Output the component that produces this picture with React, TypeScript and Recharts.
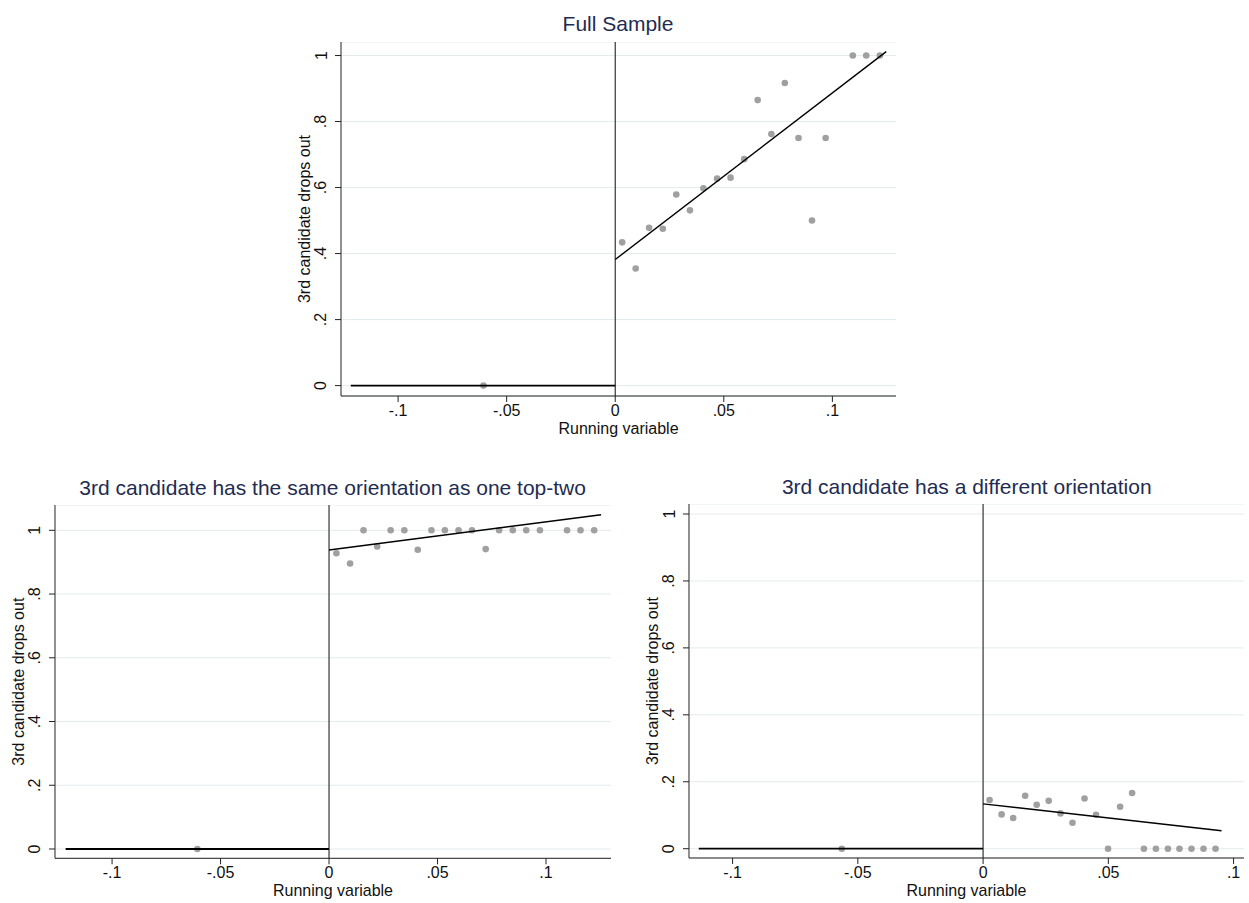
import React from "react";
import {
  ScatterChart,
  Scatter,
  XAxis,
  YAxis,
  CartesianGrid,
  ReferenceLine,
} from "recharts";

// bin centres (running variable) and bin means
const fullX = [-0.0607, 0.0032, 0.0094, 0.0156, 0.0219, 0.0281, 0.0344, 0.0406, 0.0469, 0.0531, 0.0594, 0.0656, 0.0719, 0.0781, 0.0844, 0.0906, 0.0969, 0.1094, 0.1156, 0.1219];
const fullY = [0, 0.434, 0.355, 0.478, 0.475, 0.579, 0.531, 0.598, 0.627, 0.63, 0.686, 0.865, 0.762, 0.917, 0.75, 0.5, 0.75, 1, 1, 1];
const fullFitLeft = { x: [-0.1218, 0], y: [0, 0] };
const fullFitRight = { x: [0, 0.1248], y: [0.382, 1.012] };

const sameX = [-0.0607, 0.0034, 0.0097, 0.0159, 0.0222, 0.0284, 0.0347, 0.0409, 0.0472, 0.0534, 0.0597, 0.0659, 0.0722, 0.0784, 0.0847, 0.0909, 0.0972, 0.1097, 0.1159, 0.1222];
const sameY = [0, 0.928, 0.896, 1, 0.949, 1, 1, 0.939, 1, 1, 1, 1, 0.941, 1, 1, 1, 1, 1, 1, 1];
const sameFitLeft = { x: [-0.1214, 0], y: [0, 0] };
const sameFitRight = { x: [0, 0.1254], y: [0.938, 1.049] };

const diffX = [-0.0564, 0.0026, 0.0074, 0.012, 0.0168, 0.0214, 0.0262, 0.0309, 0.0357, 0.0405, 0.0451, 0.0499, 0.0547, 0.0595, 0.0642, 0.069, 0.0738, 0.0784, 0.0832, 0.088, 0.0928];
const diffY = [0, 0.1455, 0.1025, 0.0917, 0.158, 0.131, 0.143, 0.1055, 0.0777, 0.15, 0.1016, 0, 0.1255, 0.1664, 0, 0, 0, 0, 0, 0, 0];
const diffFitLeft = { x: [-0.1135, 0], y: [0, 0] };
const diffFitRight = { x: [0, 0.0952], y: [0.134, 0.0538] };

const xTicks = [-0.1, -0.05, 0, 0.05, 0.1];
const yTicks = [0, 0.2, 0.4, 0.6, 0.8, 1];

const FONT = "'Liberation Sans', Arial, Helvetica, sans-serif";
const TITLE_COLOR = "#1f2c52";
const GRID = "#e3ebee";
const DOT = "#a0a0a0";

const fmt = (v: number) =>
  v === 0 ? "0" : (v < 0 ? "-" : "") + String(Math.abs(v)).replace(/^0/, "");

const zip = (xs: number[], ys: number[]) => xs.map((x, i) => ({ x, y: ys[i] }));

function XTick({ x, y, payload }: any) {
  return (
    <text x={x} y={y + 12} textAnchor="middle" fontSize={16} fontFamily={FONT} fill="#111">
      {fmt(payload.value)}
    </text>
  );
}

function YTick({ x, y, payload }: any) {
  return (
    <text
      x={x}
      y={y}
      transform={`rotate(-90 ${x} ${y})`}
      textAnchor="middle"
      fontSize={16}
      fontFamily={FONT}
      fill="#111"
    >
      {fmt(payload.value)}
    </text>
  );
}

function XLabel({ viewBox, text }: any) {
  const cx = viewBox.x + viewBox.width / 2;
  return (
    <text x={cx} y={viewBox.y + 38} textAnchor="middle" fontSize={16} fontFamily={FONT} fill="#111">
      {text}
    </text>
  );
}

function YLabel({ viewBox, text }: any) {
  const cx = viewBox.x + viewBox.width - 37;
  const cy = viewBox.y + viewBox.height / 2;
  return (
    <text
      x={cx}
      y={cy}
      dy="0.36em"
      transform={`rotate(-90 ${cx} ${cy})`}
      textAnchor="middle"
      fontSize={16}
      fontFamily={FONT}
      fill="#111"
    >
      {text}
    </text>
  );
}

const Dot = ({ cx, cy }: any) => <circle cx={cx} cy={cy} r={3.3} fill={DOT} />;
const NoDot = () => <g />;

type PanelProps = {
  title: string;
  plotLeft: number;
  plotTop: number;
  plotW: number;
  plotH: number;
  xDomain: [number, number];
  yDomain: [number, number];
  xs: number[];
  ys: number[];
  fitLeft: { x: number[]; y: number[] };
  fitRight: { x: number[]; y: number[] };
};

function Panel(p: PanelProps) {
  const yw = 60;
  const xh = 50;
  return (
    <>
      <div
        style={{
          position: "absolute",
          left: p.plotLeft + p.plotW / 2,
          top: p.plotTop - 28.5,
          transform: "translateX(-50%)",
          whiteSpace: "nowrap",
          fontFamily: FONT,
          fontSize: 21,
          lineHeight: 1,
          color: TITLE_COLOR,
        }}
      >
        {p.title}
      </div>
      <div style={{ position: "absolute", left: p.plotLeft - yw, top: p.plotTop }}>
        <ScatterChart
          width={p.plotW + yw}
          height={p.plotH + xh}
          margin={{ top: 0, right: 0, bottom: 0, left: 0 }}
        >
          <CartesianGrid vertical={false} stroke={GRID} strokeWidth={1} />
          <XAxis
            type="number"
            dataKey="x"
            domain={p.xDomain}
            ticks={xTicks}
            allowDataOverflow
            height={xh}
            tickSize={6}
            tickMargin={2}
            tick={<XTick />}
            stroke="#222"
            label={<XLabel text="Running variable" />}
          />
          <YAxis
            type="number"
            dataKey="y"
            domain={p.yDomain}
            ticks={yTicks}
            allowDataOverflow
            width={yw}
            tickSize={6}
            tickMargin={8.5}
            tick={<YTick />}
            stroke="#222"
            label={<YLabel text="3rd candidate drops out" />}
          />
          <ReferenceLine x={0} stroke="#333" strokeWidth={1.2} />
          <Scatter data={zip(p.xs, p.ys)} shape={<Dot />} isAnimationActive={false} />
          <Scatter
            data={zip(p.fitLeft.x, p.fitLeft.y)}
            line={{ stroke: "#000", strokeWidth: 1.8 }}
            shape={<NoDot />}
            isAnimationActive={false}
          />
          <Scatter
            data={zip(p.fitRight.x, p.fitRight.y)}
            line={{ stroke: "#000", strokeWidth: 1.4 }}
            shape={<NoDot />}
            isAnimationActive={false}
          />
        </ScatterChart>
      </div>
    </>
  );
}

export default function App() {
  return (
    <div
      style={{
        position: "absolute",
        left: 0,
        top: 0,
        width: 1249,
        height: 903,
        background: "#fff",
        fontFamily: FONT,
      }}
    >
      <Panel
        title="Full Sample"
        plotLeft={340.5}
        plotTop={41.7}
        plotW={555}
        plotH={354}
        xDomain={[-0.1263, 0.1293]}
        yDomain={[-0.0315, 1.041]}
        xs={fullX}
        ys={fullY}
        fitLeft={fullFitLeft}
        fitRight={fullFitRight}
      />
      <Panel
        title="3rd candidate has the same orientation as one top-two"
        plotLeft={54.6}
        plotTop={505}
        plotW={556.1}
        plotH={353.3}
        xDomain={[-0.1263, 0.13]}
        yDomain={[-0.0292, 1.0794]}
        xs={sameX}
        ys={sameY}
        fitLeft={sameFitLeft}
        fitRight={sameFitRight}
      />
      <Panel
        title="3rd candidate has a different orientation"
        plotLeft={689.2}
        plotTop={504.3}
        plotW={555.1}
        plotH={354}
        xDomain={[-0.1174, 0.1042]}
        yDomain={[-0.0278, 1.0299]}
        xs={diffX}
        ys={diffY}
        fitLeft={diffFitLeft}
        fitRight={diffFitRight}
      />
    </div>
  );
}
